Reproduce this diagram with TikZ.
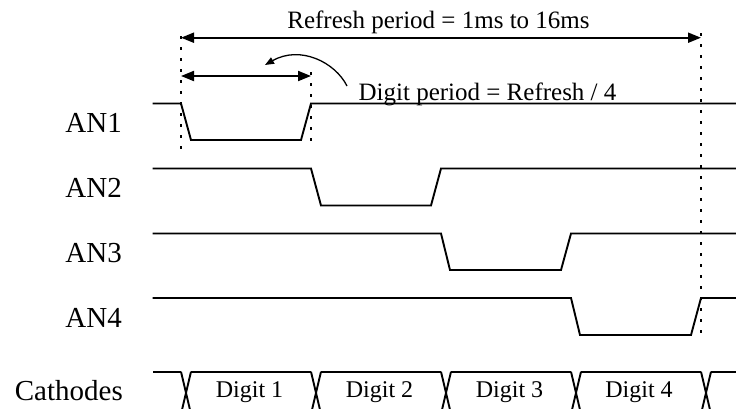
\documentclass[tikz,border=0pt]{standalone}
\usepackage{fontspec}
\setmainfont{Liberation Serif}
\usetikzlibrary{arrows.meta}
\tikzset{
  sig/.style={line width=1.9pt, line join=miter},
  dotline/.style={line width=2.2pt, dash pattern=on 3pt off 8pt},
  span/.style={line width=2pt, {Triangle[length=13pt,width=10pt]}-{Triangle[length=13pt,width=10pt]}},
  pointer/.style={line width=1.3pt, -{Triangle[length=9pt,width=7pt]}},
  lbl/.style={inner sep=0pt, font=\fontsize{29}{32}\selectfont, anchor=base east},
  note/.style={inner sep=0pt, font=\fontsize{25}{28}\selectfont, anchor=base},
  dig/.style={inner sep=0pt, font=\fontsize{24}{27}\selectfont, anchor=base},
}
\begin{document}
\begin{tikzpicture}[x=1pt,y=-1pt]
\useasboundingbox (0,0) rectangle (736,408);
\clip (0,0) rectangle (736,408);

% labels
\node[lbl] (an1) at (122,132.7) {AN1};
\node[lbl] (an2) at (122,197.7) {AN2};
\node[lbl] (an3) at (122,262.7) {AN3};
\node[lbl] (an4) at (122,327.7) {AN4};
\node[lbl] (cat) at (123,400) {Cathodes};
\node[note] (refresh) at (438.5,28.3) {Refresh period = 1ms to 16ms};
\node[note] (digitp) at (487.5,100) {Digit period = Refresh / 4};
\node[dig] (d1) at (249.5,397.7) {Digit 1};
\node[dig] (d2) at (379.5,397.7) {Digit 2};
\node[dig] (d3) at (509.5,397.7) {Digit 3};
\node[dig] (d4) at (639,397.7) {Digit 4};

% waveforms
\draw[sig] (152.7,103.5) -- (181,103.5) -- (191,140) -- (301,140) -- (311,103.5) -- (736,103.5);
\draw[sig] (152.7,168.5) -- (311,168.5) -- (321,205.5) -- (431,205.5) -- (441,168.5) -- (736,168.5);
\draw[sig] (152.7,233.5) -- (441,233.5) -- (450,270) -- (561,270) -- (571,233.5) -- (736,233.5);
\draw[sig] (152.7,298) -- (571,298) -- (580,335) -- (691,335) -- (701,298) -- (736,298);

% cathode bus
\draw[sig] (153,371.7) -- (181,371.7);
\foreach \e in {181,311,441,571,701}{
  \draw[sig] (\e,371.7) -- (\e+10,414);
  \draw[sig] (\e+10,371.7) -- (\e,414);
}
\foreach \a/\b in {191/311,321/441,451/571,581/701,711/740}{
  \draw[sig] (\a,371.7) -- (\b,371.7);
  \draw[sig] (\a,414) -- (\b,414);
}

% dotted markers
\coordinate (l0) at (181,36);   \coordinate (l1) at (181,152);
\coordinate (m0) at (311,72);   \coordinate (m1) at (311,141);
\coordinate (r0) at (701,33);   \coordinate (r1) at (701,337);
\draw[dotline] (l0) -- (l1);
\draw[dotline] (m0) -- (m1);
\draw[dotline] (r0) -- (r1);

% span arrows
\coordinate (ra) at (181,37.7); \coordinate (rb) at (701,37.7);
\coordinate (da) at (181,76);   \coordinate (db) at (311,76);
\draw[span] (ra) -- (rb);
\draw[span] (da) -- (db);

% pointer from note
\coordinate (cs) at (347,86);
\coordinate (ce) at (265,65);
\draw[pointer] (cs) .. controls (335,62) and (300,45) .. (ce);
\end{tikzpicture}
\end{document}
